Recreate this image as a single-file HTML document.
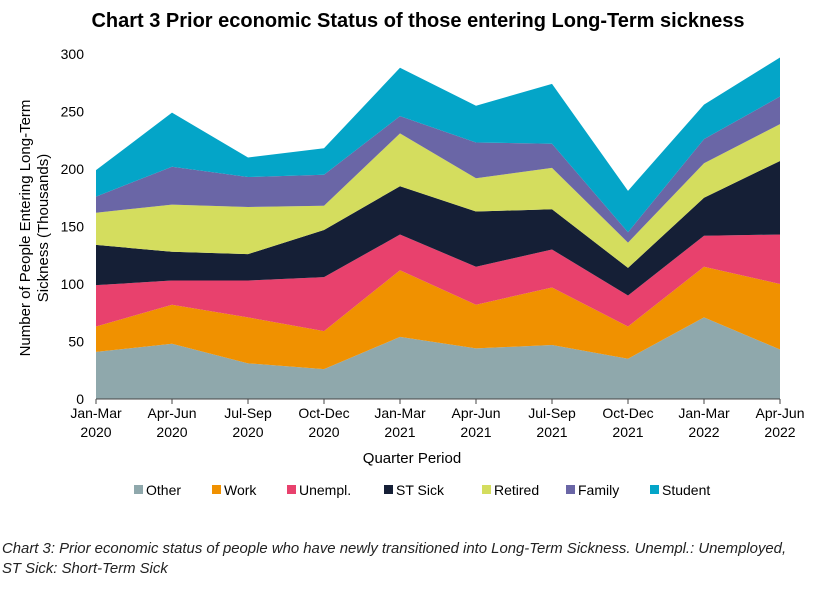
<!DOCTYPE html>
<html><head><meta charset="utf-8"><style>
body{margin:0;background:#fff;width:815px;height:592px;overflow:hidden;font-family:"Liberation Sans",sans-serif}
</style></head><body>
<svg width="815" height="592" id="c" font-family="Liberation Sans, sans-serif">
<text x="418" y="27" text-anchor="middle" font-size="20" font-weight="bold" fill="#000">Chart 3 Prior economic Status of those entering Long-Term sickness</text>
<g transform="translate(34,228) rotate(-90)"><text x="0" y="-4" text-anchor="middle" font-size="15">Number of People Entering Long-Term</text><text x="0" y="14" text-anchor="middle" font-size="15">Sickness (Thousands)</text></g>
<text x="412" y="463" text-anchor="middle" font-size="15">Quarter Period</text>
<text x="2" y="553" font-size="14.9" font-style="italic" fill="#222">Chart 3: Prior economic status of people who have newly transitioned into Long-Term Sickness. Unempl.: Unemployed,</text>
<text x="2" y="573" font-size="14.9" font-style="italic" fill="#222">ST Sick: Short-Term Sick</text>
<g id="plot"></g>
</svg>
<script>
const categories=[["Jan-Mar","2020"],["Apr-Jun","2020"],["Jul-Sep","2020"],["Oct-Dec","2020"],["Jan-Mar","2021"],["Apr-Jun","2021"],["Jul-Sep","2021"],["Oct-Dec","2021"],["Jan-Mar","2022"],["Apr-Jun","2022"]];
const seriesNames=["Other","Work","Unempl.","ST Sick","Retired","Family","Student"];
const seriesColors=["#8fa8ac","#f09100","#e8416d","#151f36","#d4dd5e","#6a66a6","#04a5c8"];
const other=[41,48,31,26,54,44,47,35,71,43];
const work=[22,34,40,33,58,38,50,28,44,57];
const unempl=[36,21,32,47,31,33,33,27,27,43];
const stSick=[35,25,23,41,42,48,35,24,33,64];
const retired=[28,41,41,21,46,29,36,22,30,32];
const family=[14,33,26,27,15,31,21,9,21,24];
const student=[23,47,17,23,42,32,52,36,30,34];
const yTicks=[0,50,100,150,200,250,300];
const series=[other,work,unempl,stSick,retired,family,student];
const NS="http://www.w3.org/2000/svg";
const g=document.getElementById('plot');
const x0=96,x1=780,yb=399,yt=54,ymax=300;
const xs=i=>x0+i*(x1-x0)/(categories.length-1);
const ys=v=>yb-v*(yb-yt)/ymax;
function mk(t,a){const e=document.createElementNS(NS,t);for(const k in a)e.setAttribute(k,a[k]);g.appendChild(e);return e;}
let base=categories.map(()=>0);
series.forEach((s,si)=>{
  const top=base.map((b,i)=>b+s[i]);
  let d="M"+top.map((v,i)=>xs(i)+","+ys(v)).join("L");
  for(let i=categories.length-1;i>=0;i--)d+="L"+xs(i)+","+ys(base[i]);
  const p=mk('path',{d:d+"Z",fill:seriesColors[si]});
  
  
  base=top;
});
const ax=mk('line',{x1:x0,x2:x1,y1:yb,y2:yb,stroke:'#444','stroke-width':1});


yTicks.forEach(v=>{
  const t=mk('text',{x:84,y:ys(v)+5,'text-anchor':'end','font-size':14});
  t.textContent=v;
  
  
});
categories.forEach((c,i)=>{
  const tk=mk('line',{x1:xs(i),x2:xs(i),y1:yb,y2:yb+5,stroke:'#444'});
  
  
  c.forEach((l,j)=>{
    const t=mk('text',{x:xs(i),y:418+j*19,'text-anchor':'middle','font-size':14});
    t.textContent=l;
    
    
  });
});
const legX=[134,212,287,384,482,566,650];
seriesNames.forEach((n,i)=>{
  const r=mk('rect',{x:legX[i],y:485,width:9,height:9,fill:seriesColors[i]});
  
  
  const t=mk('text',{x:legX[i]+12,y:495,'font-size':14});
  t.textContent=n;
  
  
});
</script>
</body></html>
